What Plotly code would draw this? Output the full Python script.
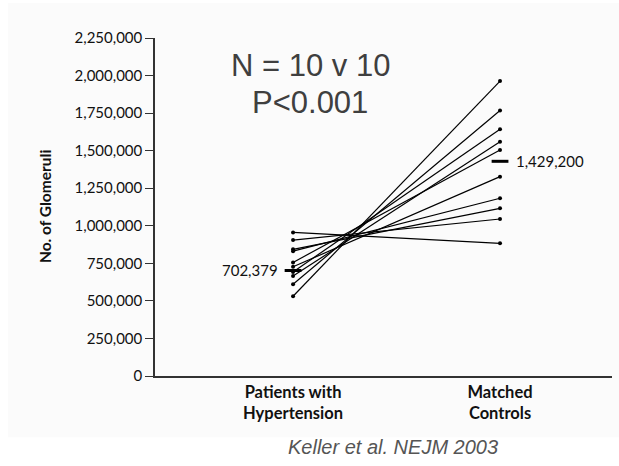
import plotly.graph_objects as go

groups = ["Patients with<br>Hypertension", "Matched<br>Controls"]
hypertension = [956000, 905000, 843000, 831000, 756000, 727000, 693000, 665000, 611000, 531000]
controls = [883000, 1045000, 1116000, 1183000, 1505000, 1327000, 1643000, 1560000, 1767000, 1963000]
means = [702379, 1429200]
mean_labels = ["702,379", "1,429,200"]
y_ticks = [0, 250000, 500000, 750000, 1000000, 1250000, 1500000, 1750000, 2000000, 2250000]
y_ticktext = ["0", "250,000", "500,000", "750,000", "1,000,000", "1,250,000",
              "1,500,000", "1,750,000", "2,000,000", "2,250,000"]

FONT = "Lato"
fig = go.Figure()

for a, b in zip(hypertension, controls):
    fig.add_trace(go.Scatter(
        x=[0, 1], y=[a, b], mode="lines+markers",
        line=dict(color="black", width=1.2),
        marker=dict(color="black", size=4),
        cliponaxis=False, showlegend=False, hoverinfo="skip"))

fig.add_trace(go.Scatter(
    x=[0, 1], y=means, mode="markers",
    marker=dict(symbol="line-ew", size=12, line=dict(width=3, color="black")),
    cliponaxis=False, showlegend=False, hoverinfo="skip"))

fig.add_annotation(x=0, y=means[0], xref="x", yref="y", text=mean_labels[0],
                   showarrow=False, xanchor="right", yanchor="middle", xshift=-13,
                   font=dict(family=FONT, size=15, color="#111"))
fig.add_annotation(x=1, y=means[1], xref="x", yref="y", text=mean_labels[1],
                   showarrow=False, xanchor="left", yanchor="middle", xshift=14,
                   font=dict(family=FONT, size=15, color="#111"))

# background panel
fig.add_shape(type="rect", xref="paper", yref="paper",
              x0=-0.3217, x1=1.0153, y0=-0.1815, y1=1.1036,
              fillcolor="#fbfbfb", line=dict(width=0), layer="below")

fig.add_annotation(x=-0.2407, y=0.5, xref="paper", yref="paper",
                   text="<b>No. of Glomeruli</b>", textangle=-90, showarrow=False,
                   xanchor="center", yanchor="middle",
                   font=dict(family=FONT, size=15.5, color="#111"))

fig.add_annotation(x=(310 - 155) / 457, y=(375.7 - 65) / 337.7, xref="paper", yref="paper",
                   text="N = 10 v 10", showarrow=False, xanchor="center", yanchor="middle",
                   font=dict(family="Liberation Sans, Arial", size=31, color="#3f3f3f"))
fig.add_annotation(x=(310 - 155) / 457, y=(375.7 - 102) / 337.7, xref="paper", yref="paper",
                   text="P<0.001", showarrow=False, xanchor="center", yanchor="middle",
                   font=dict(family="Liberation Sans, Arial", size=31, color="#3f3f3f"))
fig.add_annotation(x=(393 - 155) / 457, y=(375.7 - 447) / 337.7, xref="paper", yref="paper",
                   text="<i>Keller et al. NEJM 2003</i>", showarrow=False,
                   xanchor="center", yanchor="middle",
                   font=dict(family="Liberation Sans, Arial", size=20, color="#555555"))

fig.update_layout(
    width=619, height=466,
    margin=dict(l=155, r=7, t=38, b=90.3),
    paper_bgcolor="white", plot_bgcolor="rgba(0,0,0,0)",
    font=dict(family=FONT, color="#111"),
)
fig.update_xaxes(
    range=[-0.667, 1.541], tickvals=[0, 1],
    ticktext=["<b>" + g + "</b>" for g in groups],
    showline=True, linecolor="#333", linewidth=1.5, ticks="",
    showgrid=False, zeroline=False, tickfont=dict(family=FONT, size=16.5, color="#111"),
)
fig.update_yaxes(
    range=[0, 2250000], tickvals=y_ticks, ticktext=y_ticktext,
    showline=True, linecolor="#333", linewidth=1.5, ticks="outside", ticklen=8,
    tickcolor="#333", tickwidth=1, showgrid=False, zeroline=False,
    tickfont=dict(family=FONT, size=15, color="#111"),
)

fig.write_html("out.html", config={"displayModeBar": False},
               post_script="document.body.style.margin='0';")
